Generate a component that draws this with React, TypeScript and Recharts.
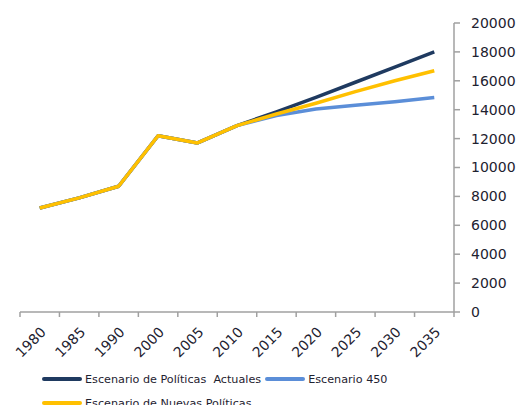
import React from "react";
import { Legend, Line, LineChart, XAxis, YAxis } from "recharts";

const years = ["1980", "1985", "1990", "2000", "2005", "2010", "2015", "2020", "2025", "2030", "2035"];
const actuales = [7200, 7900, 8700, 12200, 11700, 12900, 13850, 14850, 15900, 16950, 18000];
const escenario450 = [7200, 7900, 8700, 12200, 11700, 12900, 13600, 14050, 14300, 14550, 14850];
const nuevas = [7200, 7900, 8700, 12200, 11700, 12900, 13700, 14450, 15250, 16000, 16700];
const yTicks = [0, 2000, 4000, 6000, 8000, 10000, 12000, 14000, 16000, 18000, 20000];

const series = [
  { key: "actuales", name: "Escenario de Políticas  Actuales", color: "#1F3A60" },
  { key: "e450", name: "Escenario 450", color: "#5B8ED8" },
  { key: "nuevas", name: "Escenario de Nuevas Políticas", color: "#FFC000" },
];

const data = years.map((year, i) => ({
  year,
  actuales: actuales[i],
  e450: escenario450[i],
  nuevas: nuevas[i],
}));

const textColor = "#1e2230";
const axisColor = "#a0a0a0";
const font = "'DejaVu Sans', sans-serif";

// excel style: tick marks sit between categories, label at category centre
const YearTick = (props: any) => {
  const { x, y, payload, index } = props;
  const half = payload.offset || 0;
  const ty = y + 14;
  return (
    <g>
      <line x1={x - half} x2={x - half} y1={y} y2={y + 5} stroke={axisColor} strokeWidth={1.5} />
      {index === years.length - 1 && (
        <line x1={x + half} x2={x + half} y1={y} y2={y + 5} stroke={axisColor} strokeWidth={1.5} />
      )}
      <text
        x={x}
        y={ty}
        dy="0.71em"
        textAnchor="end"
        transform={`rotate(-45, ${x}, ${ty})`}
        fill={textColor}
        fontSize={14}
        fontFamily={font}
      >
        {payload.value}
      </text>
    </g>
  );
};

const LegendBox = () => (
  <div
    style={{
      display: "flex",
      flexWrap: "wrap",
      width: 360,
      rowGap: 10,
      columnGap: 4,
      fontFamily: font,
      fontSize: 11.2,
      color: textColor,
    }}
  >
    {series.map((s) => (
      <div key={s.key} style={{ display: "flex", alignItems: "center", height: 14 }}>
        <span
          style={{
            display: "inline-block",
            width: 40,
            height: 4,
            borderRadius: 2,
            background: s.color,
            marginRight: 3,
          }}
        />
        <span style={{ whiteSpace: "pre" }}>{s.name}</span>
      </div>
    ))}
  </div>
);

export default function App() {
  return (
    <div style={{ position: "absolute", left: 0, top: 0, width: 523, height: 405, overflow: "hidden", background: "#fff" }}>
      <LineChart width={523} height={405} data={data} margin={{ top: 23, right: 0, left: 20, bottom: 0 }}>
        <XAxis
          dataKey="year"
          scale="band"
          height={93}
          stroke={axisColor}
          strokeWidth={1.5}
          tickLine={false}
          interval={0}
          tickSize={0}
          tickMargin={0}
          tick={<YearTick />}
        />
        <YAxis
          orientation="right"
          width={69}
          domain={[0, 20000]}
          ticks={yTicks}
          interval={0}
          tickSize={6}
          tickMargin={11}
          stroke={axisColor}
          strokeWidth={1.5}
          tick={{ fill: textColor, fontSize: 14, fontFamily: font }}
        />
        <Legend
          layout="horizontal"
          verticalAlign="middle"
          align="center"
          wrapperStyle={{ left: 42, top: 372, width: 400 }}
          content={() => <LegendBox />}
        />
        {series.map((s) => (
          <Line
            key={s.key}
            dataKey={s.key}
            name={s.name}
            stroke={s.color}
            strokeWidth={3.5}
            strokeLinejoin="round"
            dot={false}
            isAnimationActive={false}
          />
        ))}
      </LineChart>
    </div>
  );
}
